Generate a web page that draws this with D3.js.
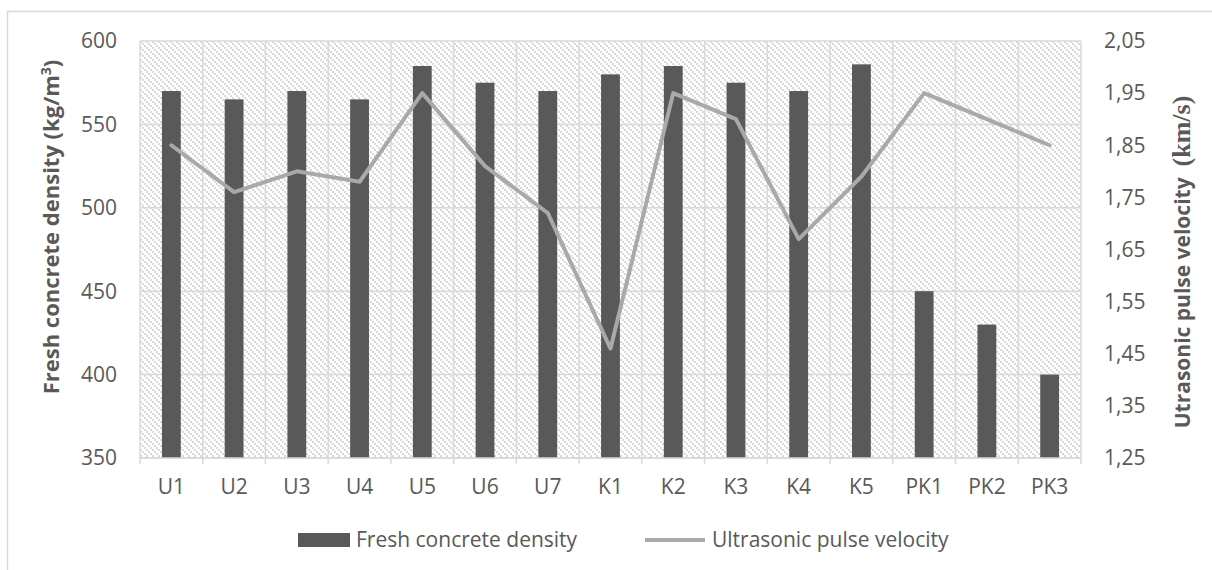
<!DOCTYPE html>
<html>
<head>
<meta charset="utf-8">
<script src="https://cdn.jsdelivr.net/npm/d3@7"></script>
<style>
  body { margin: 0; background: #fff; }
  text { font-family: "Open Sans", "Liberation Sans", sans-serif; fill: #595959; }
</style>
</head>
<body>
<div id="chart"></div>
<script>
var categories = ["U1", "U2", "U3", "U4", "U5", "U6", "U7", "K1", "K2", "K3", "K4", "K5", "PK1", "PK2", "PK3"];
var densityValues = [570, 565, 570, 565, 585, 575, 570, 580, 585, 575, 570, 586, 450, 430, 400];
var velocityValues = [1.85, 1.76, 1.80, 1.78, 1.95, 1.81, 1.72, 1.46, 1.95, 1.90, 1.67, 1.79, 1.95, 1.90, 1.85];
var leftTicks = [350, 400, 450, 500, 550, 600];
var rightTicks = [1.25, 1.35, 1.45, 1.55, 1.65, 1.75, 1.85, 1.95, 2.05];

var width = 1212, height = 570;
var margin = {top: 41, right: 131, bottom: 112, left: 140};
var innerW = width - margin.left - margin.right,
    innerH = height - margin.top - margin.bottom;

var svg = d3.select("#chart").append("svg")
    .attr("width", width)
    .attr("height", height);

// chart border (only left & top visible in the crop)
svg.append("path")
    .attr("d", "M7.5,570 L7.5,11.5 L1212,11.5")
    .attr("fill", "none")
    .attr("stroke", "#d9d9d9")
    .attr("stroke-width", 1.5);

var defs = svg.append("defs");
var pat = defs.append("pattern")
    .attr("id", "hatch")
    .attr("patternUnits", "userSpaceOnUse")
    .attr("width", 6).attr("height", 6);
pat.append("rect").attr("width", 6).attr("height", 6).attr("fill", "#fff");
[[0, 0], [2, 2], [4, 4]].forEach(function (p) {
    pat.append("rect")
        .attr("x", p[0]).attr("y", p[1])
        .attr("width", 2).attr("height", 2)
        .attr("fill", "#d9d9d9");
});

var g = svg.append("g")
    .attr("transform", "translate(" + margin.left + "," + margin.top + ")");

var x = d3.scaleBand().domain(categories).range([0, innerW]).paddingInner(0).paddingOuter(0);
var yL = d3.scaleLinear().domain([350, 600]).range([innerH, 0]);
var yR = d3.scaleLinear().domain([1.25, 2.05]).range([innerH, 0]);

g.append("rect")
    .attr("width", innerW).attr("height", innerH)
    .attr("fill", "url(#hatch)");

// horizontal grid
g.selectAll(".hgrid")
    .data(leftTicks)
    .enter().append("line")
    .attr("class", "hgrid")
    .attr("x1", 0).attr("x2", innerW)
    .attr("y1", function (d) { return yL(d); })
    .attr("y2", function (d) { return yL(d); })
    .attr("stroke", "#d9d9d9")
    .attr("stroke-width", 1.5);

// vertical grid at category boundaries
var bounds = categories.map(function (c) { return x(c); }).concat([innerW]);
g.selectAll(".vgrid")
    .data(bounds)
    .enter().append("line")
    .attr("class", "vgrid")
    .attr("x1", function (d) { return d; })
    .attr("x2", function (d) { return d; })
    .attr("y1", 0).attr("y2", innerH + 6)
    .attr("stroke", "#d9d9d9")
    .attr("stroke-width", 1.5);

// bars
var barW = x.bandwidth() * 0.3;
g.selectAll(".bar")
    .data(densityValues)
    .enter().append("rect")
    .attr("class", "bar")
    .attr("x", function (d, i) { return x(categories[i]) + (x.bandwidth() - barW) / 2; })
    .attr("y", function (d) { return yL(d); })
    .attr("width", barW)
    .attr("height", function (d) { return innerH - yL(d); })
    .attr("fill", "#595959");

// bottom axis line
g.append("line")
    .attr("x1", 0).attr("x2", innerW)
    .attr("y1", innerH).attr("y2", innerH)
    .attr("stroke", "#d9d9d9")
    .attr("stroke-width", 1.5);

// line series
var line = d3.line()
    .x(function (d, i) { return x(categories[i]) + x.bandwidth() / 2; })
    .y(function (d) { return yR(d); });
g.append("path")
    .datum(velocityValues)
    .attr("d", line)
    .attr("fill", "none")
    .attr("stroke", "#a9a9a9")
    .attr("stroke-width", 4)
    .attr("stroke-linejoin", "round")
    .attr("stroke-linecap", "round");

// axes labels
var fmtR = function (d) { return d3.format(".2f")(d).replace(".", ","); };

g.append("g")
    .attr("transform", "translate(-23,0)")
    .selectAll("text")
    .data(leftTicks)
    .enter().append("text")
    .attr("y", function (d) { return yL(d); })
    .attr("dy", "0.35em")
    .attr("text-anchor", "end")
    .style("font-size", "21px")
    .text(function (d) { return d; });

g.append("g")
    .attr("transform", "translate(" + (innerW + 23) + ",0)")
    .selectAll("text")
    .data(rightTicks)
    .enter().append("text")
    .attr("y", function (d) { return yR(d); })
    .attr("dy", "0.35em")
    .attr("text-anchor", "start")
    .style("font-size", "21px")
    .text(fmtR);

g.append("g")
    .selectAll("text")
    .data(categories)
    .enter().append("text")
    .attr("x", function (d) { return x(d) + x.bandwidth() / 2; })
    .attr("y", innerH + 36)
    .attr("text-anchor", "middle")
    .style("font-size", "21px")
    .text(function (d) { return d; });

// axis titles
var lt = svg.append("text")
    .attr("transform", "translate(59,227) rotate(-90)")
    .attr("text-anchor", "middle")
    .style("font-size", "22px")
    .style("font-weight", "bold");
lt.append("tspan").text("Fresh concrete density (kg/m");
lt.append("tspan").attr("dy", -8).style("font-size", "14px").text("3");
lt.append("tspan").attr("dy", 8).text(")");

var rt = svg.append("text")
    .attr("transform", "translate(1190,262) rotate(-90)")
    .attr("text-anchor", "middle")
    .style("font-size", "21px")
    .style("font-weight", "bold");
rt.append("tspan").text("Utrasonic pulse velocity\u00a0\u00a0");
rt.append("tspan").style("font-family", "'Liberation Serif', 'DejaVu Serif', serif").style("font-size", "26px").text("(km/s)");

// legend
var leg = svg.append("g").attr("transform", "translate(0,540)");
leg.append("rect")
    .attr("x", 298).attr("y", -7)
    .attr("width", 52).attr("height", 14)
    .attr("fill", "#595959");
leg.append("text")
    .attr("x", 356).attr("dy", "0.35em")
    .style("font-size", "21px")
    .text("Fresh concrete density");
leg.append("line")
    .attr("x1", 645).attr("x2", 705)
    .attr("stroke", "#a9a9a9")
    .attr("stroke-width", 4);
leg.append("text")
    .attr("x", 712).attr("dy", "0.35em")
    .style("font-size", "21px")
    .text("Ultrasonic pulse velocity");
</script>
</body>
</html>
